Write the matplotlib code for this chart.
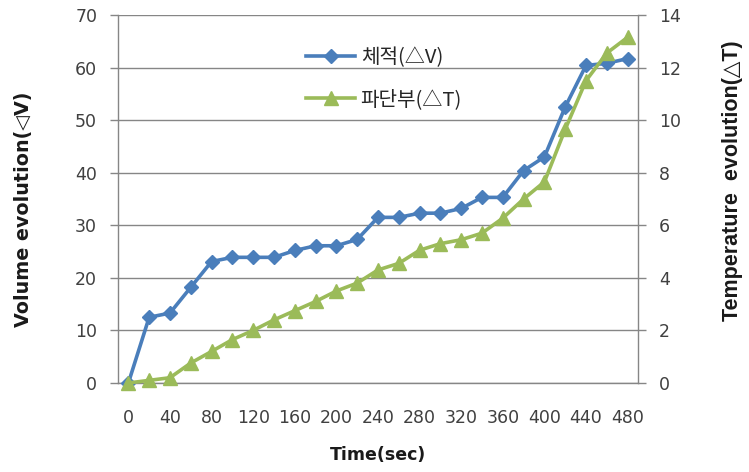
import numpy as np
import matplotlib
matplotlib.use("Agg")
import matplotlib.pyplot as plt

plt.rcParams["font.family"] = ["DejaVu Sans"]

# time steps (sec) and the two measured series
time_sec = list(range(0, 481, 20))
volume_dv = [0.0, 12.5, 13.3, 18.2, 23.1, 23.9, 23.9, 23.9, 25.2, 26.1,
             26.1, 27.3, 31.5, 31.5, 32.3, 32.3, 33.2, 35.3, 35.3, 40.4,
             43.0, 52.5, 60.4, 60.8, 61.7]
temp_dt = [0.0, 0.1, 0.2, 0.76, 1.2, 1.65, 2.0, 2.4, 2.75, 3.1,
           3.5, 3.8, 4.3, 4.55, 5.05, 5.3, 5.45, 5.7, 6.27, 7.0,
           7.65, 9.65, 11.5, 12.55, 13.15]
x_ticks = list(range(0, 481, 40))
left_ticks = list(range(0, 71, 10))
right_ticks = list(range(0, 15, 2))

blue = "#4a7ebb"
green = "#9bbb59"
grey = "#868686"
label_col = "#404040"

fig = plt.figure(figsize=(7.49, 4.72), dpi=100)
ax = fig.add_axes([0.1575, 0.1886, 0.6943, 0.7797])
ax2 = ax.twinx()

ax.plot(time_sec, volume_dv, color=blue, lw=2.6, marker="D", ms=7.5,
        label="체적(△V)", clip_on=False, zorder=3)
ax2.plot(time_sec, temp_dt, color=green, lw=2.6, marker="^", ms=9.5,
         label="파단부(△T)", clip_on=False, zorder=3)

ax.set_xlim(-10, 490)
ax.set_ylim(0, 70)
ax2.set_ylim(0, 14)
ax.set_xticks(x_ticks)
ax.set_yticks(left_ticks)
ax2.set_yticks(right_ticks)

ax.yaxis.grid(True, color=grey, lw=1)
ax.set_axisbelow(True)

for a in (ax, ax2):
    a.spines["top"].set_visible(False)
    for s in ("left", "right", "bottom"):
        a.spines[s].set_color(grey)
        a.spines[s].set_linewidth(1)
ax2.spines["left"].set_visible(False)
ax2.spines["bottom"].set_visible(False)
ax.spines["right"].set_visible(False)

ax.tick_params(axis="y", length=6, width=1, color=grey, pad=9,
               labelsize=12.5, labelcolor=label_col)
ax2.tick_params(axis="y", length=6, width=1, color=grey, pad=9,
                labelsize=12.5, labelcolor=label_col)
ax.tick_params(axis="x", length=0, pad=19, labelsize=12.5,
               labelcolor=label_col)

# axis titles
fig.text(0.032, 0.557, "Volume evolution(◁V)", rotation=90, ha="center",
         va="center", fontsize=13.8, fontweight="bold", color="#1a1a1a")
fig.text(0.978, 0.618, "Temperature  evolution(△T)", rotation=90,
         ha="center", va="center", fontsize=15.5, fontweight="bold",
         family=["Liberation Sans", "DejaVu Sans"], color="#1a1a1a")
fig.text(0.505, 0.036, "Time(sec)", ha="center", va="center",
         fontsize=12.5, fontweight="bold", color="#1a1a1a")

h1, l1 = ax.get_legend_handles_labels()
h2, l2 = ax2.get_legend_handles_labels()
leg = ax2.legend(h1 + h2, l1 + l2, loc="upper left",
                 bbox_to_anchor=(0.409, 0.9005),
                 bbox_transform=fig.transFigure, frameon=False,
                 borderpad=0, borderaxespad=0,
                 prop={"family": ["Noto Sans CJK KR", "DejaVu Sans"],
                       "size": 14.5},
                 handlelength=2.4, labelspacing=1.05, handletextpad=0.3)
for t in leg.get_texts():
    t.set_color("#262626")

fig.savefig("out.png", dpi=100)
